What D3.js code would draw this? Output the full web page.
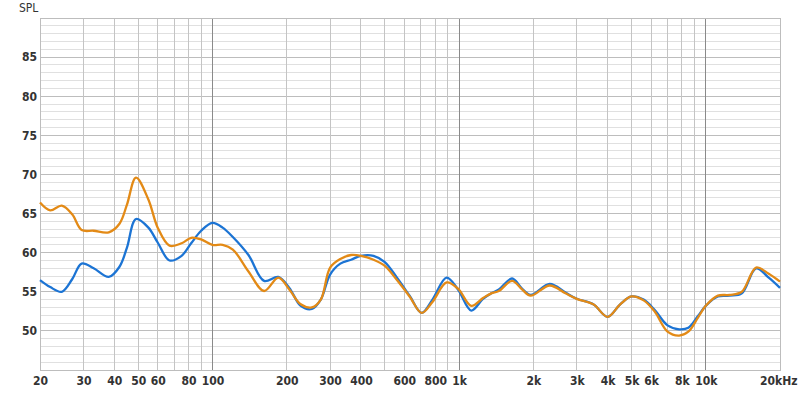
<!DOCTYPE html>
<html>
<head>
<meta charset="utf-8">
<script src="https://cdn.jsdelivr.net/npm/d3@7"></script>
<style>
  body { margin: 0; background: #fff; }
  .tick text { font-family: "DejaVu Sans", sans-serif; font-stretch: condensed; font-weight: bold; font-size: 12px; fill: #333; }
</style>
</head>
<body>
<div id="chart"></div>
<script>
var freqs = [20, 22, 24.5, 27, 29.5, 33, 38, 42, 45, 49, 55, 60, 67, 75, 82, 90, 100, 110, 121, 140, 162, 185, 205, 228, 253, 275, 300, 330, 365, 400, 450, 500, 560, 630, 705, 780, 890, 990, 1120, 1250, 1350, 1450, 1640, 1800, 1950, 2330, 2700, 3000, 3500, 4000, 4500, 5000, 5600, 6200, 7000, 7800, 8500, 9300, 10000, 11200, 12500, 14000, 16000, 18000, 20000];
var blueSpl = [56.5, 55.6, 55.0, 56.6, 58.6, 58.0, 56.9, 58.2, 60.6, 64.3, 63.2, 61.3, 59.0, 59.6, 61.2, 62.8, 63.8, 63.2, 62.0, 59.7, 56.4, 56.9, 55.5, 53.2, 52.8, 54.0, 57.2, 58.6, 59.1, 59.6, 59.6, 58.8, 56.8, 54.5, 52.3, 54.0, 56.8, 55.3, 52.6, 54.1, 54.8, 55.3, 56.7, 55.4, 54.6, 56.0, 54.9, 54.1, 53.4, 51.8, 53.4, 54.4, 54.0, 52.7, 50.7, 50.2, 50.4, 51.9, 53.2, 54.4, 54.5, 54.8, 58.0, 56.8, 55.5];
var orangeSpl = [66.4, 65.4, 66.0, 64.9, 62.9, 62.8, 62.6, 63.7, 66.1, 69.6, 66.8, 63.2, 60.9, 61.2, 61.9, 61.7, 61.0, 61.0, 60.4, 57.6, 55.1, 56.8, 55.3, 53.4, 53.0, 54.0, 58.1, 59.2, 59.7, 59.6, 59.1, 58.3, 56.5, 54.4, 52.3, 53.7, 56.2, 55.4, 53.2, 54.2, 54.8, 55.1, 56.4, 55.3, 54.5, 55.8, 54.8, 54.1, 53.4, 51.8, 53.4, 54.4, 53.9, 52.5, 49.9, 49.4, 49.9, 51.7, 53.2, 54.5, 54.6, 55.0, 58.1, 57.3, 56.3];

var xTicks = [20, 30, 40, 50, 60, 80, 100, 200, 300, 400, 600, 800, 1000, 2000, 3000, 4000, 5000, 6000, 8000, 10000, 20000];
var xTickLabels = ["20", "30", "40", "50", "60", "80", "100", "200", "300", "400", "600", "800", "1k", "2k", "3k", "4k", "5k", "6k", "8k", "10k", "20kHz"];
var xGrid = [30, 40, 50, 60, 70, 80, 90, 200, 300, 400, 500, 600, 700, 800, 900, 2000, 3000, 4000, 5000, 6000, 7000, 8000, 9000];
var xDecades = [100, 1000, 10000];
var yTicks = [50, 55, 60, 65, 70, 75, 80, 85];

var W = 800, H = 394;
var margin = {top: 18, right: 20, bottom: 24, left: 40};

var svg = d3.select("#chart").append("svg")
  .attr("width", W).attr("height", H);

var x = d3.scaleLog().domain([20, 20000]).range([margin.left, W - margin.right]);
var y = d3.scaleLinear().domain([45, 90]).range([H - margin.bottom, margin.top]);

// horizontal grid, every 1 dB, darker every 5
svg.append("g").selectAll("line")
  .data(d3.range(46, 90))
  .enter().append("line")
  .attr("x1", x(20)).attr("x2", x(20000))
  .attr("y1", function(d) { return y(d); }).attr("y2", function(d) { return y(d); })
  .attr("stroke", function(d) { return d % 5 === 0 ? "#bdbdbd" : "#e0e0e0"; })
  .attr("stroke-width", 1)
  .attr("shape-rendering", "crispEdges");

// vertical grid
svg.append("g").selectAll("line")
  .data(xGrid)
  .enter().append("line")
  .attr("x1", function(d) { return x(d); }).attr("x2", function(d) { return x(d); })
  .attr("y1", y(90)).attr("y2", y(45))
  .attr("stroke", "#c4c4c4")
  .attr("shape-rendering", "crispEdges");

svg.append("g").selectAll("line")
  .data(xDecades)
  .enter().append("line")
  .attr("x1", function(d) { return x(d); }).attr("x2", function(d) { return x(d); })
  .attr("y1", y(90)).attr("y2", y(45))
  .attr("stroke", "#8a8a8a")
  .attr("shape-rendering", "crispEdges");

// frame
svg.append("rect")
  .attr("x", x(20)).attr("y", y(90))
  .attr("width", x(20000) - x(20)).attr("height", y(45) - y(90))
  .attr("fill", "none").attr("stroke", "#bdbdbd")
  .attr("shape-rendering", "crispEdges");

// axes
var yAxis = svg.append("g")
  .attr("transform", "translate(" + (margin.left - 3) + ",0)")
  .call(d3.axisLeft(y).tickValues(yTicks).tickSize(0).tickPadding(0));
yAxis.select(".domain").remove();

var xAxis = svg.append("g")
  .attr("transform", "translate(0," + (H - margin.bottom + 6) + ")")
  .call(d3.axisBottom(x).tickValues(xTicks).tickSize(0).tickPadding(0)
    .tickFormat(function(d, i) { return xTickLabels[i]; }));
xAxis.select(".domain").remove();
xAxis.selectAll(".tick text")
  .filter(function(d) { return d === 20000; })
  .attr("text-anchor", "end").attr("dx", 17);

svg.append("text")
  .attr("x", 19).attr("y", 12)
  .style("font-family", "'DejaVu Sans', sans-serif")
  .style("font-stretch", "condensed")
  .style("font-size", "12px").style("fill", "#333")
  .text("SPL");

var line = d3.line()
  .x(function(d) { return x(d[0]); })
  .y(function(d) { return y(d[1]); })
  .curve(d3.curveCatmullRom.alpha(0.5));

svg.append("path")
  .datum(d3.zip(freqs, blueSpl))
  .attr("fill", "none").attr("stroke", "#1c74d4").attr("stroke-width", 2.3)
  .attr("d", line);

svg.append("path")
  .datum(d3.zip(freqs, orangeSpl))
  .attr("fill", "none").attr("stroke", "#e38a16").attr("stroke-width", 2.3)
  .attr("d", line);
</script>
</body>
</html>
